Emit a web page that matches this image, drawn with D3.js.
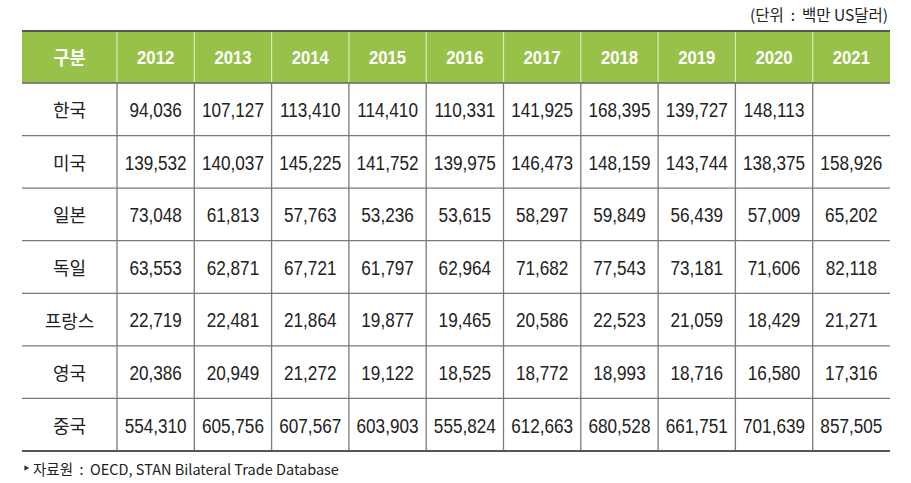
<!DOCTYPE html>
<html>
<head>
<meta charset="utf-8">
<script src="https://cdn.jsdelivr.net/npm/d3@7"></script>
<style>
  body { margin: 0; background: #fff; }
  svg text { font-family: "Liberation Sans", Arial, "Noto Sans CJK KR", sans-serif; }
  .ko { font-family: "Noto Sans CJK KR", sans-serif; }
</style>
</head>
<body>
<div id="chart"></div>
<script>
const years = ['2012', '2013', '2014', '2015', '2016', '2017', '2018', '2019', '2020', '2021']
const countries = ['한국', '미국', '일본', '독일', '프랑스', '영국', '중국']
const korea = [94036, 107127, 113410, 114410, 110331, 141925, 168395, 139727, 148113, null]
const usa = [139532, 140037, 145225, 141752, 139975, 146473, 148159, 143744, 138375, 158926]
const japan = [73048, 61813, 57763, 53236, 53615, 58297, 59849, 56439, 57009, 65202]
const germany = [63553, 62871, 67721, 61797, 62964, 71682, 77543, 73181, 71606, 82118]
const france = [22719, 22481, 21864, 19877, 19465, 20586, 22523, 21059, 18429, 21271]
const uk = [20386, 20949, 21272, 19122, 18525, 18772, 18993, 18716, 16580, 17316]
const china = [554310, 605756, 607567, 603903, 555824, 612663, 680528, 661751, 701639, 857505]
const values = [korea, usa, japan, germany, france, uk, china]

const unitLabel = '(단위 : 백만 US달러)'
const sourceLabel = '자료원 : OECD, STAN Bilateral Trade Database'
const headLabel = '구분'

const width = 911
const height = 483
const tLeft = 22
const firstColRight = 117
const tRight = 890
const tTop = 31
const headBottom = 83
const tBottom = 451
const squeeze = 0.88 // condensed look of the original digits

const svg = d3.select('#chart').append('svg')
  .attr('width', width)
  .attr('height', height)

const x = d3.scaleBand().domain(years).range([firstColRight, tRight])
const y = d3.scaleBand().domain(countries).range([headBottom, tBottom])
const fmt = d3.format(',')

// header band
svg.append('rect')
  .attr('x', tLeft).attr('y', tTop)
  .attr('width', tRight - tLeft).attr('height', headBottom - tTop)
  .attr('fill', '#98c14a')

// header vertical separators (light)
years.forEach(yr => {
  svg.append('line')
    .attr('x1', x(yr)).attr('x2', x(yr))
    .attr('y1', tTop).attr('y2', headBottom)
    .attr('stroke', '#d9e8b8').attr('stroke-width', 1.2)
})

// body vertical lines
years.forEach(yr => {
  svg.append('line')
    .attr('x1', x(yr)).attr('x2', x(yr))
    .attr('y1', headBottom).attr('y2', tBottom)
    .attr('stroke', '#7a7a7a').attr('stroke-width', 1.3)
})

// row separators
countries.forEach((c, i) => {
  if (i === 0) return
  svg.append('line')
    .attr('x1', tLeft).attr('x2', tRight)
    .attr('y1', y(c)).attr('y2', y(c))
    .attr('stroke', '#7a7a7a').attr('stroke-width', 1.3)
})

// top, header bottom, table bottom
svg.append('line')
  .attr('x1', tLeft).attr('x2', tRight).attr('y1', tTop).attr('y2', tTop)
  .attr('stroke', '#555').attr('stroke-width', 2)
svg.append('line')
  .attr('x1', tLeft).attr('x2', tRight).attr('y1', headBottom).attr('y2', headBottom)
  .attr('stroke', '#666').attr('stroke-width', 1.6)
svg.append('line')
  .attr('x1', tLeft).attr('x2', tRight).attr('y1', tBottom).attr('y2', tBottom)
  .attr('stroke', '#555').attr('stroke-width', 1.8)

// header text
const headMid = (tTop + headBottom) / 2
svg.append('text')
  .attr('class', 'ko')
  .attr('transform', `translate(${(tLeft + firstColRight) / 2},${headMid}) scale(0.92,1)`)
  .attr('text-anchor', 'middle').attr('dominant-baseline', 'central')
  .attr('fill', '#fff').attr('font-size', 19).attr('font-weight', 'bold')
  .text(headLabel)

svg.selectAll('.yr')
  .data(years)
  .enter().append('text')
  .attr('transform', d => `translate(${x(d) + x.bandwidth() / 2},${headMid + 1}) scale(${squeeze},1)`)
  .attr('text-anchor', 'middle').attr('dominant-baseline', 'central')
  .attr('fill', '#fff').attr('font-size', 19).attr('font-weight', 'bold')
  .text(d => d)

// row labels
svg.selectAll('.country')
  .data(countries)
  .enter().append('text')
  .attr('class', 'ko')
  .attr('x', (tLeft + firstColRight) / 2)
  .attr('y', d => y(d) + y.bandwidth() / 2)
  .attr('text-anchor', 'middle').attr('dominant-baseline', 'central')
  .attr('fill', '#222').attr('font-size', 18)
  .text(d => d)

// cells
countries.forEach((c, i) => {
  svg.selectAll('.cell-' + i)
    .data(values[i])
    .enter().append('text')
    .attr('transform', (d, j) => `translate(${x(years[j]) + x.bandwidth() / 2},${y(c) + y.bandwidth() / 2 + 1}) scale(${squeeze},1)`)
    .attr('text-anchor', 'middle').attr('dominant-baseline', 'central')
    .attr('fill', '#222').attr('font-size', 19.5)
    .text(d => d == null ? '' : fmt(d))
})

// unit label
svg.append('text')
  .attr('class', 'ko')
  .attr('x', 888).attr('y', 14)
  .attr('text-anchor', 'end').attr('dominant-baseline', 'central')
  .attr('fill', '#222').attr('font-size', 15.5)
  .attr('xml:space', 'preserve')
  .text(unitLabel.replace(' : ', '  :  '))

// source
svg.append('path')
  .attr('d', d3.symbol(d3.symbolTriangle, 14)())
  .attr('transform', 'translate(26,468) rotate(90)')
  .attr('fill', '#333')
svg.append('text')
  .attr('class', 'ko')
  .attr('x', 33).attr('y', 468)
  .attr('dominant-baseline', 'central')
  .attr('fill', '#222').attr('font-size', 14.5)
  .attr('xml:space', 'preserve')
  .text(sourceLabel.replace(' : ', '  :  '))
</script>
</body>
</html>
